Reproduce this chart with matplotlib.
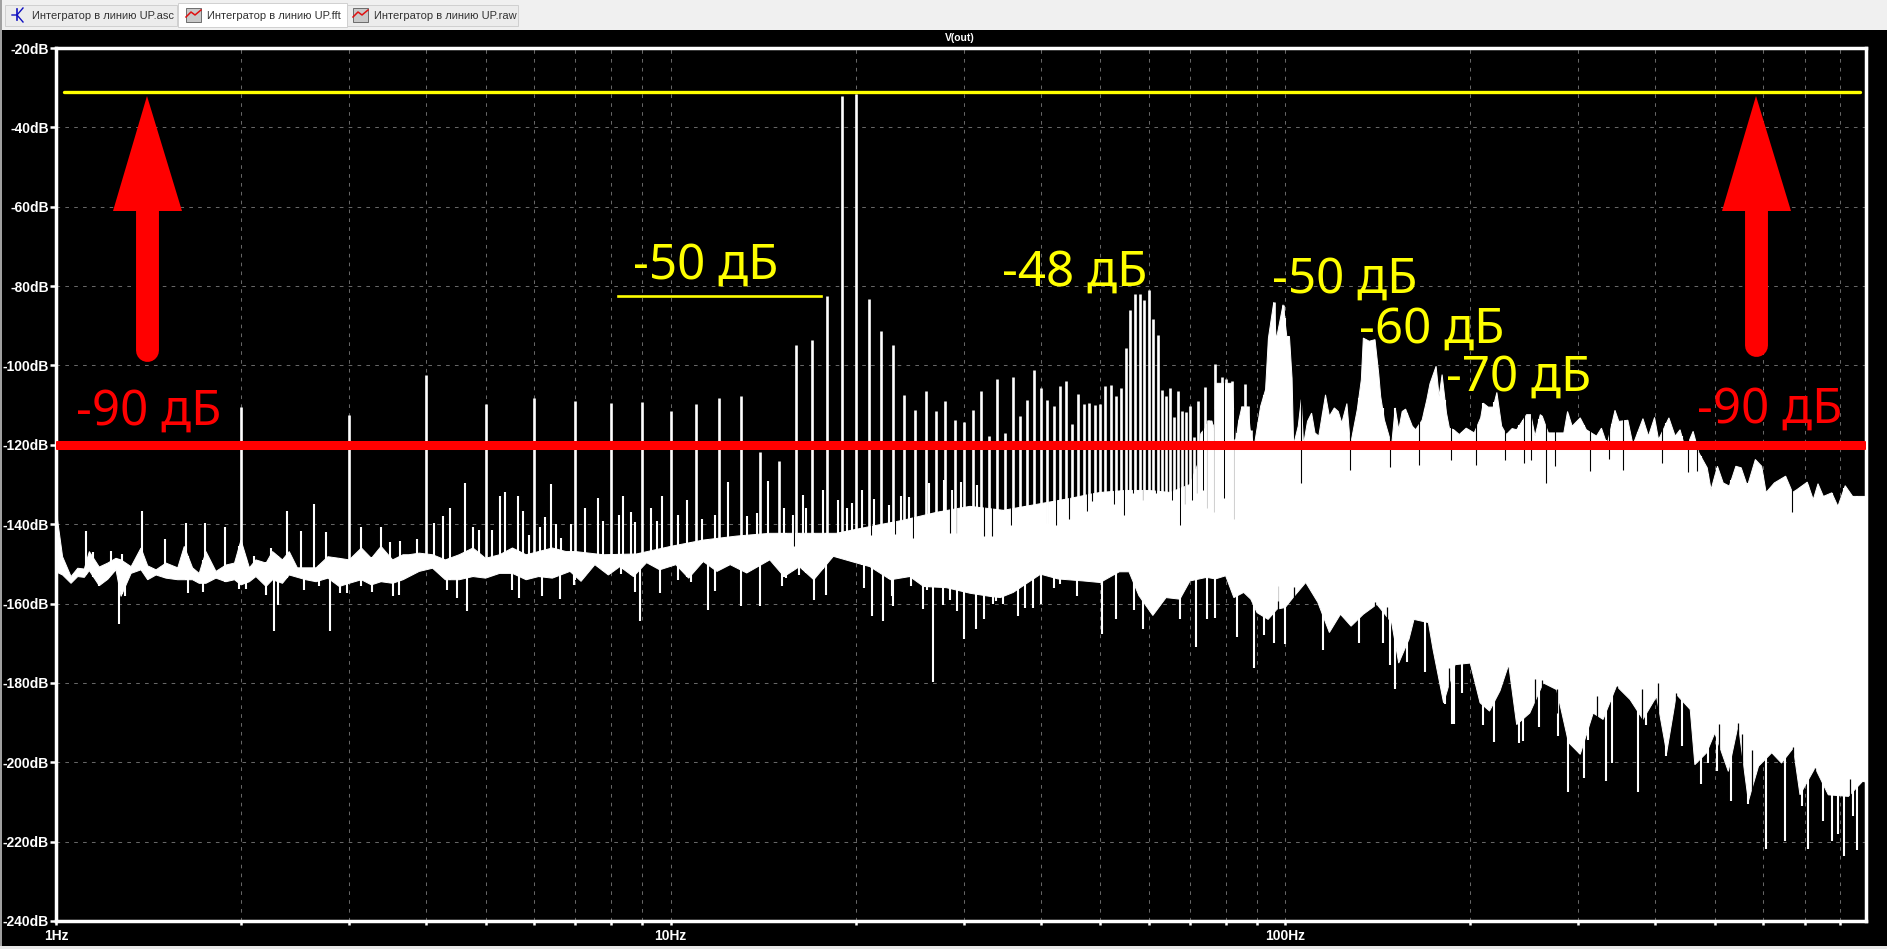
import numpy as np
import matplotlib
matplotlib.use("Agg")
import matplotlib.pyplot as plt
from matplotlib.lines import Line2D
from matplotlib.patches import Rectangle, Polygon
from matplotlib.transforms import Affine2D

# гармоники 2..99 Гц, пики в дБ
harm_f = list(range(2, 100))
harm_db = [-110.4, -112.6, -102.4, -109.8, -108.1, -109.0, -109.5, -109.3, -111.6, -109.7,
           -108.1, -107.8, -121.8, -124.2, -94.9, -93.5, -82.6, -32.1, -31.5, -83.2,
           -91.4, -94.9, -107.4, -111.2, -106.5, -111.4, -109.0, -113.7, -114.3, -111.3,
           -106.5, -117.9, -103.4, -116.9, -102.8, -112.8, -108.6, -101.2, -105.7, -108.8,
           -110.3, -105.3, -104.0, -114.7, -107.2, -109.7, -109.5, -110.0, -109.7, -105.3,
           -105.0, -107.7, -105.7, -95.6, -86.1, -82.0, -82.0, -83.6, -80.9, -88.3,
           -92.3, -106.3, -107.6, -105.7, -113.0, -106.5, -111.6, -111.7, -110.1, -118.0,
           -109.0, -117.0, -105.5, -113.7, -114.7, -99.6, -104.8, -102.8, -103.4, -107.0,
           -103.8, -118.5, -113.8, -110.3, -104.7, -110.3, -116.2, -124.0, -125.0, -121.0,
           -110.3, -106.0, -93.0, -89.3, -84.1, -93.5, -91.8, -84.7]

# верхняя граница шума
hi_f = [1.0, 1.006, 1.025, 1.058, 1.085, 1.112, 1.133, 1.176, 1.214, 1.252, 1.276, 1.325, 1.375, 1.41, 1.455,
        1.51, 1.578, 1.617, 1.668, 1.71, 1.754, 1.821, 1.89, 1.952, 2.0, 2.064, 2.115, 2.197, 2.251, 2.336,
        2.396, 2.47, 2.55, 2.65, 2.77, 2.89, 3.0, 3.14, 3.26, 3.38, 3.53, 3.67, 3.75, 3.9, 4.1, 4.3, 4.53,
        4.77, 5.0, 5.27, 5.53, 5.82, 6.1, 6.42, 6.76, 7.0, 7.77, 8.8, 10, 11.3, 12.8, 14.5, 18.6, 21.1,
        23.9, 27.1, 30.7, 34.8, 39.4, 44.7, 48, 50, 55, 60, 65, 70, 72, 73, 74, 75, 76, 76.9, 77, 82, 83,
        84, 85, 87, 87.7, 89, 91.2, 92.9, 93.9, 95.8, 96.7, 99.2, 100.6, 101.6, 102.6, 103.2, 105, 106.2,
        107.1, 108.7, 110.4, 111.8, 113.4, 116.3, 118, 120.2, 122, 123.6, 126, 127.7, 131, 133, 134, 137,
        140, 142, 143, 145, 149, 151, 153, 155, 157, 161, 163, 167, 170, 172, 176, 178, 180, 183, 185,
        188, 192, 197, 203, 208, 210, 214, 218, 221, 225, 229, 234, 238, 247, 251, 255, 260, 262, 268,
        284, 288, 293, 302, 309, 321, 327, 334, 344, 349, 361, 368, 382, 390, 399, 405, 421, 431, 439,
        448, 461, 471, 486, 493, 505, 516, 528, 541, 552, 565, 582, 596, 606, 625, 652, 669, 680, 707,
        723, 736, 751, 775, 793, 815, 838, 870, 881]
hi_db = [-116, -139, -148.2, -153.2, -151.1, -151.3, -146.9, -150.8, -149.8, -148.6, -149, -150.7, -146, -150.5,
         -151.5, -149.8, -151, -145.6, -151, -152.4, -146.9, -151.9, -150.3, -149.8, -144, -151, -149, -149.8,
         -146.9, -149, -146.9, -151, -151, -151, -148.2, -148.6, -149, -146, -148.6, -145.6, -149, -147.7,
         -147.7, -147.3, -147.7, -149, -147.7, -146, -148.6, -147.7, -146, -147.7, -146.9, -146, -146.9, -146.9,
         -147.7, -147.5, -145.6, -144, -143, -142.3, -142.3, -140.6, -139, -137, -135.5, -136.5, -135, -133.5,
         -132.5, -132, -131.5, -131.5, -132, -130, -125, -117, -116, -114, -114, -118, -104.5, -104.5, -120,
         -114, -110.5, -110.5, -116.2, -120.5, -110.3, -106.1, -93.1, -84.1, -93.5, -84.7, -92.7, -92.7, -103.2,
         -120, -115.3, -108.6, -120, -114.1, -112, -117, -117.8, -107.4, -112.8, -110.7, -111.6, -114.5, -109.6,
         -120, -111.1, -103.6, -93.1, -93.9, -93.5, -102.3, -107.8, -113.7, -120, -110.7, -116.2, -111.6, -111,
         -115.3, -116.2, -113.8, -108.6, -104.6, -100.2, -107.8, -102.3, -112, -115.8, -116.2, -117.4, -115.8,
         -117, -113.2, -109.5, -110.5, -110.5, -106.8, -115.3, -117.4, -115.9, -116.2, -112.4, -112.4, -117.8,
         -112.4, -112.8, -117, -117, -111.6, -115.3, -113.2, -116.2, -117.8, -115.8, -120, -111.3, -114.1, -113.8,
         -120, -113.4, -117.8, -113.1, -118.7, -113.2, -117.8, -116.2, -121.2, -116.6, -122, -125.8, -131.3,
         -125.4, -129.6, -130.4, -125.4, -125.8, -130.4, -123.7, -125.4, -132, -129.6, -127.9, -132, -131.3,
         -129.4, -133.8, -129.8, -133, -132.1, -135.5, -130.3, -133, -133, -133]

# нижняя граница шума
lo_f = [1.0, 1.025, 1.058, 1.085, 1.112, 1.133, 1.176, 1.214, 1.252, 1.276, 1.325, 1.375, 1.41, 1.455, 1.51, 1.578,
        1.668, 1.71, 1.754, 1.821, 1.89, 1.952, 2.0, 2.064, 2.115, 2.197, 2.251, 2.336, 2.396, 2.55, 2.65, 2.77,
        2.89, 3.0, 3.14, 3.26, 3.38, 3.53, 3.67, 3.9, 4.1, 4.3, 4.53, 4.77, 5.0, 5.27, 5.53, 5.82, 6.1, 6.42,
        6.86, 7.15, 7.53, 7.92, 8.27, 8.7, 9.14, 9.6, 10.2, 10.7, 11.3, 11.9, 12.5, 13.3, 14.5, 15.3, 16.2, 17.1,
        18.4, 20.1, 21.1, 22.8, 24.5, 25.8, 28.1, 30.7, 33.1, 34.4, 36.1, 37.9, 40, 42.7, 46.9, 50, 53.7, 55.7,
        57.8, 60.9, 64, 67.4, 70, 74.5, 77, 80, 82.5, 85.6, 87.9, 90, 93.8, 97, 100, 103, 108, 113, 118, 123,
        128, 134, 141, 149, 153, 159, 162, 171, 174, 181, 189, 200, 207.5, 215, 223.6, 231, 238, 250, 263, 276.5,
        289, 302, 317, 329, 346, 364, 382, 402, 417.5, 433, 456, 464, 485, 500, 526, 546, 567, 589, 619, 642,
        671, 688, 728, 765, 825, 870, 881]
lo_db = [-152, -152.8, -154.9, -153.2, -153.4, -151.7, -155.5, -153.9, -151.5, -158.2, -152.4, -151.5, -154, -152.8,
         -153.6, -154, -154, -154.9, -154.9, -153.6, -154.5, -154, -155.3, -154.5, -153.2, -155.7, -154, -154.9,
         -152.8, -154, -154.5, -153.6, -155.7, -154.9, -154, -155.3, -154.5, -154.9, -154, -151.9, -151.1, -154,
         -154, -153.2, -153.6, -152.4, -152.4, -154, -153.2, -153.6, -151.9, -154.4, -150.2, -152.8, -150.7, -153.2,
         -149.7, -151.5, -150.2, -153.6, -149.4, -151.9, -150.2, -152.3, -149, -153.2, -150.7, -154, -148.1, -149.8,
         -150.7, -154, -153.2, -155.7, -156, -157.4, -158.2, -158.5, -157.2, -155, -152.6, -153.8, -154.3, -154.7,
         -152, -152, -158, -163, -158.5, -158.9, -154.3, -153.4, -153.8, -153, -158.5, -157.2, -158.9, -162.3, -164,
         -161.4, -161, -158.5, -154.7, -159.7, -167.3, -162.7, -165.7, -162.7, -160.2, -164.8, -175, -169, -164,
         -164.8, -171.6, -185, -175.4, -175, -185, -187.1, -182, -175.4, -190.5, -187.6, -180, -181.7, -195, -198,
         -187.6, -189.2, -180.8, -184.2, -189.2, -183.4, -197.6, -182.9, -186.7, -200.6, -197.6, -192.6, -202.3,
         -190.5, -209.8, -201, -197.6, -200.2, -196.4, -208.2, -201.4, -208.2, -208.6, -204.8, -205]

# выбросы вверх между гармониками
up_f = [1.12, 1.15, 1.23, 1.28, 1.38, 1.504, 1.63, 1.75, 1.886, 2.10, 2.24, 2.376, 2.505, 2.63, 2.75, 3.13, 3.38, 3.5,
        3.63, 3.87, 4.12, 4.26, 4.38, 4.63, 4.77, 4.87, 5.13, 5.27, 5.38, 5.64, 5.76, 5.89, 6.13, 6.25, 6.38, 6.5, 6.63,
        6.88, 7.26, 7.63, 7.77, 8.25, 8.38, 8.63, 8.76, 9.28, 9.51, 9.67, 10.3, 10.65, 11.26, 11.8, 12.4, 13.3, 13.8,
        14.4, 15.3, 15.8, 16.4, 16.6, 17.7, 18.7, 19.4, 19.7, 20.5, 21.4, 22.7, 23.7, 24.4, 26.3, 27.8, 28.7, 29.7, 31.5]
up_db = [-141.6, -146.9, -146.7, -147.6, -136.6, -143.7, -139.7, -139.6, -140.6, -148, -146, -136.8, -141.6, -135, -142,
         -140.6, -140.6, -144.4, -144.2, -143.7, -139.7, -138, -135.8, -129.5, -140.7, -141.4, -141.4, -133, -131.8, -132.8,
         -136.8, -142.7, -140.6, -138.3, -129.9, -140, -143.5, -140, -135.8, -133.3, -139.3, -137.7, -133, -137, -139.5,
         -135.8, -139.3, -133, -137.6, -134, -138.7, -137.8, -129.3, -138, -137.2, -129, -136, -137.8, -132.6, -135.8,
         -131.4, -133.9, -135.8, -134.7, -131.5, -133.6, -135.1, -133, -133.2, -129.7, -128.8, -131.5, -129.4, -130]

# выбросы вниз
down_f = [1.176, 1.268, 1.295, 1.64, 1.737, 1.988, 2.04, 2.2, 2.267, 2.3, 2.53, 2.68, 2.795, 2.9, 2.98, 3.14, 3.27, 3.54,
          3.62, 4.32, 4.49, 4.66, 5.53, 5.66, 6.17, 6.61, 6.97, 8.9, 9.6, 11.5, 11.8, 13, 14, 15.2, 17.1, 17.9, 21.3, 22.2,
          23, 25.7, 26.7, 27.7, 29.2, 30, 31.4, 32.3, 33.8, 36.8, 37.7, 38.8, 45.8, 50.3, 53, 56.8, 58.7, 67.3, 71.6, 74.6,
          76.8, 83.5, 89, 92.4, 95.9, 99.8, 115, 131.8, 144, 148, 151, 158, 168.6, 182, 188, 194, 187, 219, 240.5, 289, 306,
          332, 375, 417, 474, 532, 567, 606, 650, 710, 751, 775, 812, 852,
          7.0, 8.3, 8.75, 10.3, 10.8, 15.4, 16.2, 20.6, 22.9, 24.6, 26.1, 28.5, 33.4, 34.8, 40, 42, 43, 210, 244, 259, 278, 311,
          340, 387, 442, 488, 504, 692, 794, 838]
down_db = [-155.7, -165.2, -158, -157.4, -157.1, -156.4, -156.4, -157.8, -166.9, -160.3, -156.6, -155.7, -166.9, -157.4,
           -157.4, -155.7, -157, -158.2, -157.8, -156.6, -158.7, -161.8, -156.6, -158.7, -158.2, -158.9, -155.3, -164.3,
           -157.4, -161.6, -156.8, -160.7, -160.5, -155.7, -159.1, -157.8, -163.1, -164.3, -160.7, -161.3, -179.8, -160.3,
           -161.8, -168.9, -166.4, -163.8, -159.3, -163.1, -161, -161, -158, -167.8, -164, -161.7, -166.3, -164, -170.9,
           -164, -163.6, -168.4, -176.2, -168, -169.9, -170.2, -171.6, -170, -170, -175.4, -181.5, -174.7, -177.3, -185.3,
           -190.4, -182.5, -190.3, -194.9, -195.1, -207.5, -204, -204.7, -207.5, -198.5, -205.6, -209.7, -210.5, -221.8,
           -219.9, -221.8, -214.9, -219.9, -223.7, -222,
           -154, -152.5, -157, -154, -154.5, -153.5, -152.7, -156, -158, -155.5, -156.5, -159.2, -160, -160, -160, -156, -155,
           -190.5, -194.7, -191.1, -193.4, -194.3, -200.2, -190.5, -196, -200.3, -202.3, -210.9, -218.2, -213.6]

# чёрные провалы в белой полосе сверху
notch_f = [15.9, 21.2, 23.2, 24.8, 28.5, 29.1, 32.4, 33.3, 35.8, 40.9, 42.4, 44.5, 47.5, 48.5, 52.7, 54.6, 56.5, 58.6, 61.6,
           65.4, 67.5, 68.6, 70.6, 71.8, 73.5, 74.6, 76.6, 79.5, 82.6, 106.2, 127.7, 148, 165, 186, 204, 228, 245, 251, 266,
           275, 313, 336, 355, 410, 452, 468, 499, 667]
notch_db = [-145.6, -142.8, -142.6, -143.5, -142.2, -142.2, -143, -142.9, -140.1, -139.7, -140.1, -138.7, -136.8, -134.2,
            -135, -137.6, -132.1, -133.8, -132.1, -133.8, -140.1, -135, -133.8, -132.1, -131.3, -135.9, -136.9, -133.4, -138.6,
            -129.6, -126.3, -125.7, -125, -123.7, -125, -123.7, -124.6, -123.7, -129.6, -125.4, -126.7, -123.5, -126.3, -124.6,
            -126.9, -126.7, -127, -136.9]

# чёрные зубцы снизу
gap_f = [97.5, 103.5, 140, 146.6, 185, 255, 262, 276.5, 321, 346, 380, 404.6, 433, 507, 545, 554, 575, 671, 729, 830]
gap_db = [-155.7, -155.9, -159.7, -160.9, -176.2, -179, -179.3, -181.5, -183.2, -180.7, -181.5, -180, -182.5, -190.3, -190,
          -192.8, -196.8, -196.1, -201.4, -204.2]

level_yellow = -31
level_red = -120
level_short = -82.5
short_f = [8.2, 17.55]

y_ticks = list(range(-240, 0, 20))[:12]
x_major = [1, 10, 100]
x_minor = [2, 3, 4, 5, 6, 7, 8, 9, 20, 30, 40, 50, 60, 70, 80, 90, 200, 300, 400, 500, 600, 700, 800]

tabs = ["Интегратор в линию UP.asc", "Интегратор в линию UP.fft", "Интегратор в линию UP.raw"]

W, H = 1887, 949
fig = plt.figure(figsize=(W / 100, H / 100), dpi=100, facecolor="black")
px = Affine2D().scale(1 / W, -1 / H).translate(0, 1) + fig.transFigure
ax = fig.add_axes([56 / W, 1 - 921 / H, (1866 - 56) / W, (921 - 48) / H], facecolor="black")

ax.set_xscale("log")
ax.set_xlim(1, 881)
ax.set_ylim(-240, -20)

ax.set_xticks(x_major)
ax.set_xticklabels(["1Hz", "10Hz", "100Hz"])
ax.set_xticks(x_minor, minor=True)
ax.set_xticklabels([], minor=True)
ax.set_yticks(y_ticks)
ax.set_yticklabels([f"{v}dB" for v in y_ticks], family="Liberation Sans", weight="bold")
for lab in ax.get_xticklabels():
    lab.set_family("Liberation Sans")
    lab.set_weight("bold")
ax.tick_params(axis="both", which="both", colors="white", width=1.8, labelsize=10, labelcolor="white")
ax.tick_params(axis="y", length=4, pad=1)
ax.tick_params(axis="x", which="both", length=3, pad=3)
ax.set_axisbelow(True)
ax.grid(True, which="both", color="#666666", lw=0.75, ls=(0, (3.5, 5)))
for s in ax.spines.values():
    s.set_color("white")
    s.set_linewidth(2.5)

# шумовая полоса
ax.fill(np.r_[hi_f, lo_f[::-1]], np.r_[hi_db, lo_db[::-1]], color="white", lw=0.7, zorder=3)

# спайки
lf = np.log10(lo_f)
hf = np.log10(hi_f)
up_base = np.interp(np.log10(up_f), lf, lo_db)
down_top = np.interp(np.log10(down_f), hf, hi_db)
ax.vlines(up_f, up_base, up_db, color="white", lw=1.5, zorder=3)
ax.vlines(down_f, down_db, down_top, color="white", lw=1.5, zorder=3)

# чёрные провалы
notch_top = np.maximum(np.interp(np.log10(notch_f), hf, hi_db), -112) + 1
ax.vlines(notch_f, notch_db, notch_top, color="black", lw=0.8, zorder=4)
gap_bot = np.interp(np.log10(gap_f), lf, lo_db) - 6
ax.vlines(gap_f, gap_bot, gap_db, color="black", lw=0.9, zorder=4)

# гармоники поверх
harm_base = np.interp(np.log10(harm_f), lf, lo_db) + 2
ax.vlines(harm_f, harm_base, harm_db, color="white", lw=1.9, zorder=5)

# разметка
ax.plot([1.03, 860], [level_yellow, level_yellow], color="#ffff00", lw=2.4, zorder=6, solid_capstyle="round")
ax.plot(short_f, [level_short, level_short], color="#ffff00", lw=1.9, zorder=6)
ax.plot([1.005, 875], [level_red, level_red], color="#ff0000", lw=6.5, zorder=6, solid_capstyle="round")

# стрелки
for cx, tail in [(147, 350), (1756, 345)]:
    fig.add_artist(Line2D([cx, cx], [205, tail], transform=px, color="#ff0000", lw=16.5, solid_capstyle="round", zorder=7))
    fig.add_artist(Polygon([(cx, 96), (cx - 34, 211), (cx + 35, 211)], closed=True, transform=px, color="#ff0000", lw=0, zorder=7))

notes = [("-50 дБ", 633, 279, "#ffff00"), ("-48 дБ", 1002, 286, "#ffff00"), ("-50 дБ", 1272, 293, "#ffff00"),
         ("-60 дБ", 1359, 343, "#ffff00"), ("-70 дБ", 1446, 391, "#ffff00"),
         ("-90 дБ", 76, 425, "#ff0000"), ("-90 дБ", 1697, 423, "#ff0000")]
for txt, x, y, col in notes:
    fig.text(x, y, txt, transform=px, family="Noto Sans", fontsize=35.5, color=col, ha="left", va="baseline", zorder=8)

fig.text(960, 38, "V(out)", transform=px, color="white", fontsize=7.5, family="Liberation Sans", weight="bold", ha="center", va="center", zorder=8)

# окно и вкладки
fig.add_artist(Rectangle((0, 0), W, 30, transform=px, color="#f0f0f0", lw=0, zorder=1))
fig.add_artist(Rectangle((0, 0), 2, H, transform=px, color="#a0a0a0", lw=0, zorder=1))
fig.add_artist(Rectangle((0, 946), W, 3, transform=px, color="#e8e8e8", lw=0, zorder=1))
tab_box = [(5, 172), (178, 169), (347, 171)]
tab_text = [32, 207, 374]
for i, (x0, w) in enumerate(tab_box):
    col = "white" if i == 1 else "#ececec"
    fig.add_artist(Rectangle((x0, 3 if i == 1 else 5), w, 24 if i == 1 else 21, transform=px, facecolor=col, edgecolor="#d0d0d0", lw=0.7, zorder=2))
    fig.text(tab_text[i], 16, tabs[i], transform=px, family="Liberation Sans", fontsize=8.0, color="#333333", va="center", ha="left", zorder=3)

# значки вкладок
fig.add_artist(Line2D([17, 17], [9, 20], transform=px, color="#1010c0", lw=1.2, zorder=3))
fig.add_artist(Line2D([12, 17, 23], [15, 15, 8], transform=px, color="#1010c0", lw=1.0, zorder=3))
fig.add_artist(Line2D([17, 23], [15, 22], transform=px, color="#1010c0", lw=1.0, zorder=3))
for x0 in [186, 353]:
    fig.add_artist(Rectangle((x0, 8), 15, 14, transform=px, facecolor="#c8c8c8", edgecolor="#404040", lw=0.5, zorder=3))
    fig.add_artist(Line2D([x0, x0 + 5, x0 + 9, x0 + 15], [17, 12, 15, 10], transform=px, color="#e01010", lw=1.1, zorder=4))

fig.savefig("out.png", dpi=100, facecolor="black")
